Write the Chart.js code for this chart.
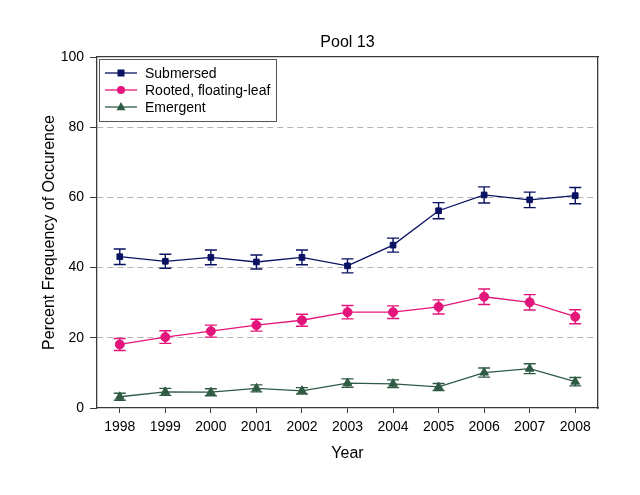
<!DOCTYPE html>
<html>
<head>
<meta charset="utf-8">
<script src="https://cdn.jsdelivr.net/npm/chart.js@4/dist/chart.umd.min.js"></script>
<style>
  html,body{margin:0;padding:0;background:#fff;}
  #wrap{width:640px;height:495px;}
</style>
</head>
<body>
<div id="wrap"><canvas id="pool13" width="640" height="495"></canvas></div>
<script>
var years = [1998, 1999, 2000, 2001, 2002, 2003, 2004, 2005, 2006, 2007, 2008];
var yTicks = [0, 20, 40, 60, 80, 100];

var submersed    = [43.1, 41.8, 42.9, 41.6, 42.9, 40.5, 46.4, 56.2, 60.7, 59.3, 60.5];
var submersedErr = [2.2, 2.0, 2.1, 2.0, 2.1, 2.0, 2.0, 2.3, 2.3, 2.2, 2.3];
var rooted       = [18.1, 20.2, 21.9, 23.6, 25.0, 27.3, 27.3, 28.8, 31.7, 30.1, 26.0];
var rootedErr    = [1.7, 1.8, 1.7, 1.7, 1.7, 1.9, 1.8, 2.0, 2.2, 2.2, 2.0];
var emergent     = [3.2, 4.6, 4.5, 5.6, 4.9, 7.1, 6.9, 6.0, 10.1, 11.2, 7.5];
var emergentErr  = [1.0, 1.0, 1.0, 1.0, 0.9, 1.2, 1.1, 1.0, 1.3, 1.4, 1.2];

(function(){
  var FONT = 'Arial, "Liberation Sans", sans-serif';
  var AXIS = '#3a3a3a';

  function pts(vals){ return vals.map(function(v,i){ return {x:years[i], y:v}; }); }

  function series(label, vals, errs, color, style, radius){
    return {
      label:label, data:pts(vals), errors:errs,
      borderColor:color, backgroundColor:color, borderWidth:1.3,
      pointStyle:style, pointRadius:radius, pointHoverRadius:radius,
      pointBorderWidth:1, pointBorderColor:color, pointBackgroundColor:color,
      tension:0, fill:false
    };
  }

  // error bars, drawn under the markers
  var errorBars = {
    id:'errorBars',
    beforeDatasetsDraw:function(chart){
      var ctx=chart.ctx, xs=chart.scales.x, ys=chart.scales.y;
      chart.data.datasets.forEach(function(ds){
        ctx.save();
        ctx.strokeStyle=ds.borderColor; ctx.lineWidth=1.4;
        ds.data.forEach(function(p,i){
          var e=ds.errors[i];
          var px=xs.getPixelForValue(p.x);
          var top=ys.getPixelForValue(p.y+e), bot=ys.getPixelForValue(p.y-e);
          ctx.beginPath();
          ctx.moveTo(px,top); ctx.lineTo(px,bot);
          ctx.moveTo(px-6,top); ctx.lineTo(px+6,top);
          ctx.moveTo(px-6,bot); ctx.lineTo(px+6,bot);
          ctx.stroke();
        });
        ctx.restore();
      });
    }
  };

  function marker(ctx, style, x, y, r, color){
    ctx.fillStyle=color;
    ctx.beginPath();
    if(style==='rect'){ ctx.rect(x-r, y-r, 2*r, 2*r); }
    else if(style==='circle'){ ctx.arc(x, y, r, 0, Math.PI*2); }
    else { ctx.moveTo(x, y-r*1.1); ctx.lineTo(x+r, y+r*0.7); ctx.lineTo(x-r, y+r*0.7); ctx.closePath(); }
    ctx.fill();
  }

  // boxed legend inside the plot, line + marker per entry
  var boxLegend = {
    id:'boxLegend',
    afterDraw:function(chart){
      var ctx=chart.ctx, a=chart.chartArea;
      var x0=a.left+2, y0=a.top+2, w=177, h=62;
      ctx.save();
      ctx.strokeStyle='#555'; ctx.lineWidth=1;
      ctx.strokeRect(x0+0.5, y0+0.5, w, h);
      ctx.font='14px '+FONT; ctx.textBaseline='middle'; ctx.fillStyle='#000';
      chart.data.datasets.forEach(function(ds,i){
        var cy=y0+14+i*17;
        ctx.strokeStyle=ds.borderColor; ctx.lineWidth=1.3;
        ctx.beginPath(); ctx.moveTo(x0+6, cy); ctx.lineTo(x0+38, cy); ctx.stroke();
        marker(ctx, ds.pointStyle, x0+22, cy, ds.pointStyle==='rect'?3.5:(ds.pointStyle==='circle'?4:4.5), ds.borderColor);
        ctx.fillStyle='#000';
        ctx.fillText(ds.label, x0+46, cy+1);
      });
      ctx.restore();
    }
  };

  function fixW(w){ return function(s){ s.width=w; }; }
  function fixH(h){ return function(s){ s.height=h; }; }

  new Chart(document.getElementById('pool13').getContext('2d'),{
    type:'line',
    data:{datasets:[
      series('Submersed', submersed, submersedErr, '#0a1262', 'rect', 4),
      series('Rooted, floating-leaf', rooted, rootedErr, '#e3157a', 'circle', 4.5),
      series('Emergent', emergent, emergentErr, '#2f5a44', 'triangle', 5)
    ]},
    plugins:[errorBars, boxLegend],
    options:{
      responsive:false, animation:false, devicePixelRatio:1,
      layout:{padding:0},
      plugins:{legend:{display:false}, tooltip:{enabled:false}, title:{display:false}},
      scales:{
        x:{
          type:'linear', position:'bottom', min:1997.5, max:2008.5,
          afterBuildTicks:function(s){ s.ticks=years.map(function(v){ return {value:v}; }); },
          afterFit:fixH(87),
          grid:{drawOnChartArea:false, drawTicks:true, tickLength:5, tickColor:AXIS, tickWidth:1},
          border:{color:AXIS, width:1.3},
          ticks:{color:'#000', font:{family:FONT, size:14}, padding:6, maxRotation:0, autoSkip:false,
                 callback:function(v){ return String(v); }},
          title:{display:true, text:'Year', color:'#000', font:{family:FONT, size:16}, padding:{top:0,bottom:32}}
        },
        x2:{
          type:'linear', position:'top', min:1997.5, max:2008.5,
          afterFit:fixH(57),
          grid:{drawOnChartArea:false, drawTicks:false},
          border:{color:AXIS, width:1.3},
          ticks:{display:false},
          title:{display:true, text:'Pool 13', color:'#000', font:{family:FONT, size:16}, padding:{top:33,bottom:0}}
        },
        y:{
          type:'linear', position:'left', min:0, max:100,
          afterBuildTicks:function(s){ s.ticks=yTicks.map(function(v){ return {value:v}; }); },
          afterFit:fixW(97),
          grid:{
            drawOnChartArea:true, drawTicks:true, tickLength:7, tickColor:AXIS, tickWidth:1, lineWidth:1,
            color:function(c){ var v=c.tick&&c.tick.value; return (v===0||v===100)?'rgba(0,0,0,0)':'#b4b4b4'; }
          },
          border:{color:AXIS, width:1.3, dash:[6,4]},
          ticks:{color:'#000', font:{family:FONT, size:14}, padding:6},
          title:{display:true, text:'Percent Frequency of Occurence', color:'#000', font:{family:FONT, size:16}, padding:{top:40,bottom:0}}
        },
        y2:{
          type:'linear', position:'right', min:0, max:100,
          afterFit:fixW(42),
          grid:{drawOnChartArea:false, drawTicks:false},
          border:{color:AXIS, width:1.3},
          ticks:{display:false}
        }
      }
    }
  });
})();
</script>
</body>
</html>
